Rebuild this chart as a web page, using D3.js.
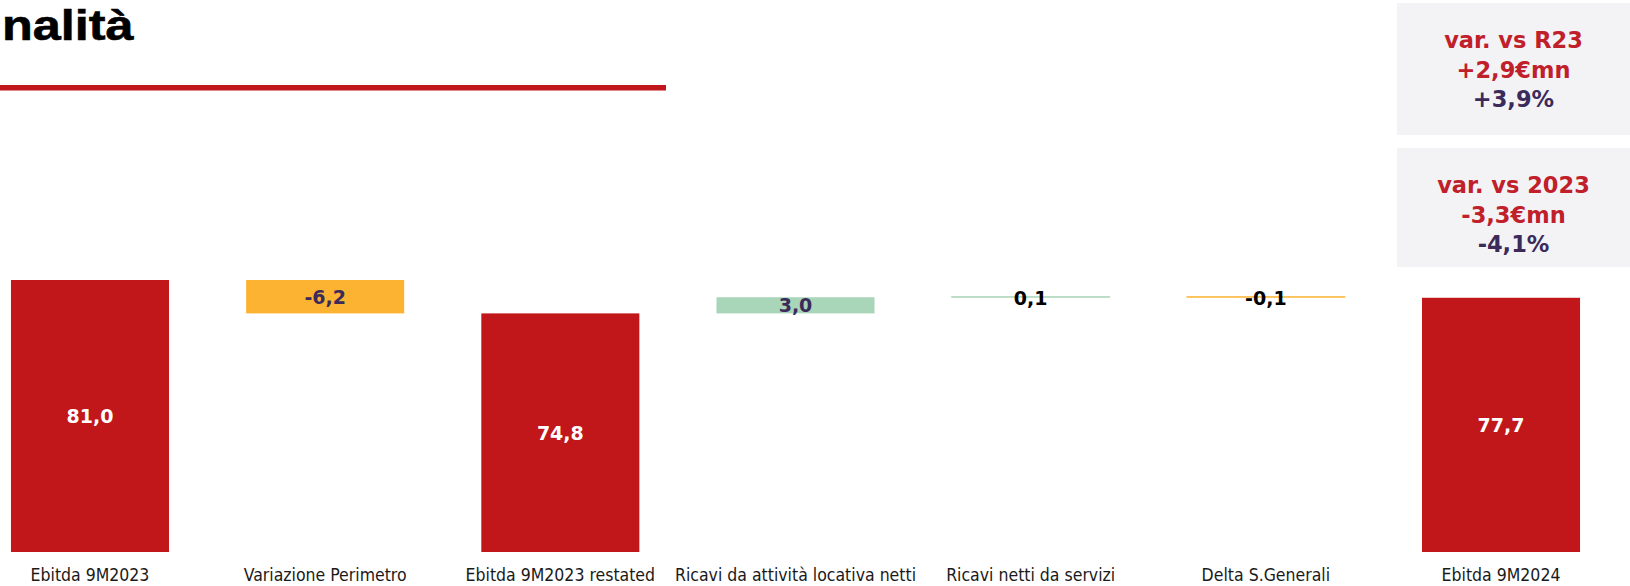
<!DOCTYPE html>
<html>
<head>
<meta charset="utf-8">
<script src="https://cdn.jsdelivr.net/npm/d3@7"></script>
<style>
  html, body { margin: 0; padding: 0; background: #ffffff; }
  svg { display: block; }
</style>
</head>
<body>
<svg id="chart" width="1630" height="586"></svg>
<script>
// ---- data ----
const categories = [
  "Ebitda 9M2023",
  "Variazione Perimetro",
  "Ebitda 9M2023 restated",
  "Ricavi da attività locativa netti",
  "Ricavi netti da servizi",
  "Delta S.Generali",
  "Ebitda 9M2024"
];
const values = [81.0, -6.2, 74.8, 3.0, 0.1, -0.1, 77.7];
const barTypes = ["total", "delta", "total", "delta", "delta", "delta", "total"];
const valueLabels = ["81,0", "-6,2", "74,8", "3,0", "0,1", "-0,1", "77,7"];
const titleText = "nalità";
const boxTitles = ["var. vs R23", "var. vs 2023"];
const boxAbs = ["+2,9€mn", "-3,3€mn"];
const boxPct = ["+3,9%", "-4,1%"];

// ---- styles ----
const RED = "#C1161A";
const ORANGE = "#FBB331";
const GREEN = "#A9D5B9";
const PURPLE = "#3B2B5B";
const BOX_BG = "#F3F3F6";

const svg = d3.select("#chart");

// scales
const x = d3.scaleBand()
  .domain(categories)
  .range([-27.6, 1618.6])
  .paddingInner(0.328)
  .paddingOuter(0.164);

const y = d3.scaleLinear()
  .domain([30.5, 81])
  .range([552, 280]);

// waterfall computation
let cum = 0;
const bars = categories.map((c, i) => {
  let y0, y1;
  if (barTypes[i] === "total") {
    y0 = y.domain()[0];
    y1 = values[i];
    cum = values[i];
  } else {
    y0 = cum;
    y1 = cum + values[i];
    cum = y1;
  }
  return { cat: c, v: values[i], type: barTypes[i], lo: Math.min(y0, y1), hi: Math.max(y0, y1), label: valueLabels[i] };
});

function barColor(d) {
  if (d.type === "total") return RED;
  return d.v >= 0 ? GREEN : ORANGE;
}

// title
svg.append("text")
  .attr("transform", "translate(2,40) scale(1.2,1)")
  .attr("font-family", "'Liberation Sans', Arial, sans-serif")
  .attr("font-weight", "bold")
  .attr("font-size", 42)
  .attr("fill", "#000")
  .attr("stroke", "#000")
  .attr("stroke-width", 0.6)
  .text(titleText);

svg.append("rect")
  .attr("x", 0).attr("y", 85)
  .attr("width", 666).attr("height", 5.5)
  .attr("fill", RED);

// boxes
const boxes = [{ top: 3, h: 132 }, { top: 148, h: 119 }];
boxes.forEach((b, i) => {
  svg.append("rect")
    .attr("x", 1397).attr("y", b.top)
    .attr("width", 233).attr("height", b.h)
    .attr("fill", BOX_BG);
  const g = svg.append("g")
    .attr("font-family", "'DejaVu Sans', Verdana, sans-serif")
    .attr("font-weight", "bold")
    .attr("font-size", 22.5)
    .attr("text-anchor", "middle");
  const base = b.top + 44.7;
  g.append("text").attr("x", 1513.5).attr("y", base).attr("fill", "#C0202A").text(boxTitles[i]);
  g.append("text").attr("x", 1513.5).attr("y", base + 30).attr("fill", "#C0202A").text(boxAbs[i]);
  g.append("text").attr("x", 1513.5).attr("y", base + 59).attr("fill", PURPLE).text(boxPct[i]);
});

// bars
const bw = x.bandwidth();
svg.append("g").selectAll("rect")
  .data(bars)
  .join("rect")
  .attr("x", d => x(d.cat))
  .attr("y", d => y(d.hi))
  .attr("width", bw)
  .attr("height", d => Math.max(y(d.lo) - y(d.hi), 0))
  .attr("fill", barColor)
  .attr("stroke", d => (y(d.lo) - y(d.hi)) < 2 ? barColor(d) : "none")
  .attr("stroke-width", 0.8);

// value labels
svg.append("g")
  .attr("font-family", "'DejaVu Sans', Verdana, sans-serif")
  .attr("font-weight", "bold")
  .attr("font-size", 19)
  .attr("text-anchor", "middle")
  .selectAll("text")
  .data(bars)
  .join("text")
  .attr("x", d => x(d.cat) + bw / 2)
  .attr("y", d => (y(d.lo) + y(d.hi)) / 2)
  .attr("dy", d => (y(d.lo) - y(d.hi)) < 4 ? "0.4em" : "0.36em")
  .attr("fill", d => d.type === "total" ? "#ffffff" : ((y(d.lo) - y(d.hi)) < 4 ? "#000000" : PURPLE))
  .text(d => d.label);

// category axis
const xAxis = d3.axisBottom(x).tickSize(0).tickPadding(0);
const ax = svg.append("g")
  .attr("transform", "translate(0,569)")
  .call(xAxis);
ax.select(".domain").remove();
ax.selectAll("text")
  .attr("font-family", "'DejaVu Sans Condensed', 'DejaVu Sans', sans-serif")
  .attr("font-size", 17.5)
  .attr("fill", "#1a1a1a")
  .attr("dy", "0.71em")
  .attr("y", 0);
</script>
</body>
</html>
